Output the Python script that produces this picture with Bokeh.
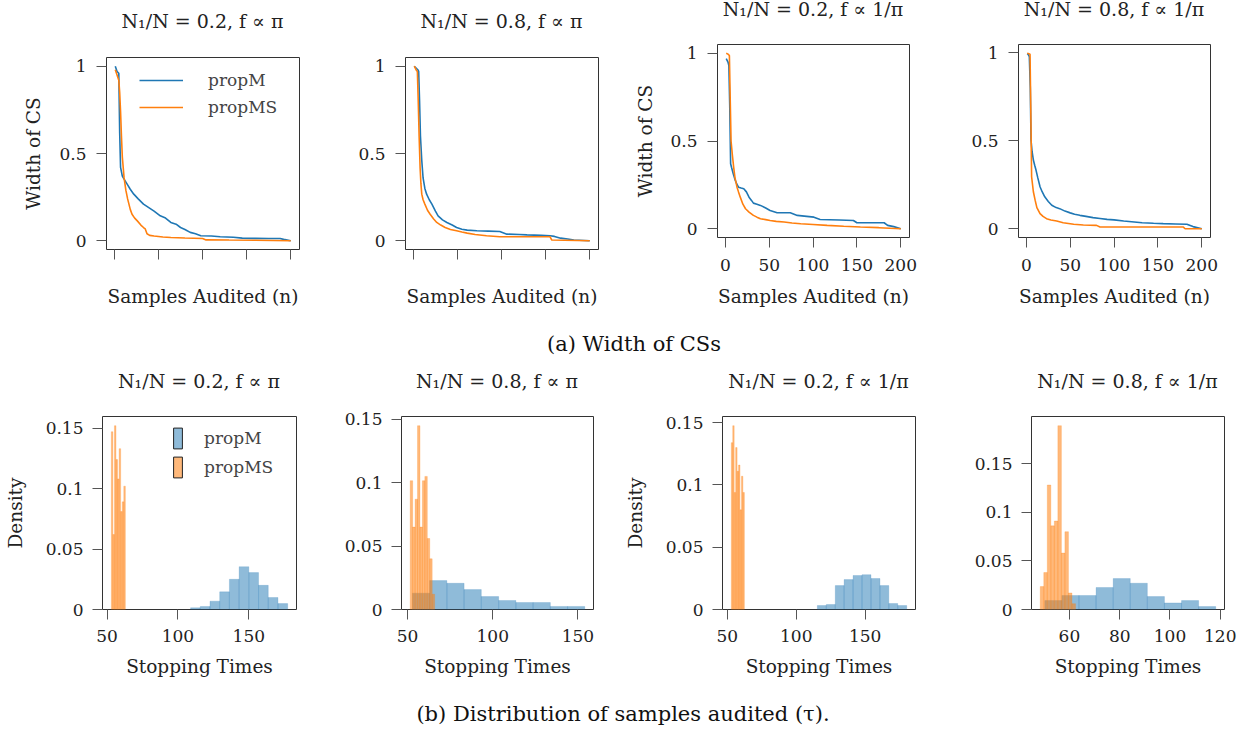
from bokeh.plotting import figure
from bokeh.layouts import column, row
from bokeh.models import Range1d, FixedTicker, Legend, LegendItem, Div
from bokeh.embed import file_html
from bokeh.resources import INLINE

FONT = "DejaVu Serif"
BLUE = "#1f77b4"
ORANGE = "#ff7f0e"
TXT = "#222222"

# ---------------- data: width of CS (top row) ----------------
titles = ["N₁/N = 0.2, f ∝ π", "N₁/N = 0.8, f ∝ π",
          "N₁/N = 0.2, f ∝ 1/π", "N₁/N = 0.8, f ∝ 1/π"]
series_names = ["propM", "propMS"]
top_xlabel = "Samples Audited (n)"
top_ylabel = "Width of CS"
bot_xlabel = "Stopping Times"
bot_ylabel = "Density"

a1_m_n = [1, 3, 5, 6, 7, 9, 12, 15, 18, 22, 27, 33, 39, 45, 52, 58, 64, 70, 75, 80, 86, 92, 98, 110, 120, 135, 145, 160, 175, 188, 192, 200]
a1_m_w = [1.0, 0.97, 0.96, 0.62, 0.42, 0.37, 0.345, 0.32, 0.295, 0.267, 0.24, 0.21, 0.19, 0.17, 0.143, 0.13, 0.105, 0.095, 0.076, 0.065, 0.048, 0.04, 0.029, 0.027, 0.023, 0.02, 0.015, 0.014, 0.013, 0.013, 0.008, 0.0]
a1_s_n = [1, 3, 5, 6, 7, 8, 9, 11, 13, 15, 18, 20, 23, 26, 30, 33, 35, 37, 40, 45, 55, 64, 80, 100, 104, 130, 160, 200]
a1_s_w = [0.98, 0.95, 0.92, 0.85, 0.74, 0.6, 0.48, 0.36, 0.29, 0.24, 0.18, 0.152, 0.13, 0.114, 0.09, 0.076, 0.068, 0.04, 0.031, 0.027, 0.022, 0.019, 0.016, 0.013, 0.005, 0.004, 0.003, 0.0]

a2_m_n = [1, 3, 5, 6, 7, 8, 9.5, 11, 13, 15, 18, 21, 25, 28, 33, 38, 44, 49, 55, 61, 72, 85, 98, 106, 120, 129, 145, 155, 160, 167, 175, 182, 200]
a2_m_w = [1.0, 0.99, 0.98, 0.97, 0.8, 0.6, 0.46, 0.36, 0.3, 0.267, 0.235, 0.21, 0.17, 0.143, 0.12, 0.105, 0.09, 0.076, 0.066, 0.061, 0.057, 0.055, 0.053, 0.038, 0.036, 0.034, 0.031, 0.029, 0.025, 0.015, 0.01, 0.004, 0.0]
a2_s_n = [1, 3, 4.5, 5.5, 6.5, 7.6, 8.5, 9.5, 11, 13, 16, 19, 23, 26.5, 31, 36, 42, 49, 55, 61, 70, 83, 98, 120, 155, 157, 200]
a2_s_w = [1.0, 0.98, 0.97, 0.8, 0.6, 0.42, 0.33, 0.267, 0.235, 0.21, 0.175, 0.152, 0.125, 0.105, 0.09, 0.076, 0.065, 0.057, 0.05, 0.044, 0.036, 0.029, 0.023, 0.023, 0.023, 0.004, 0.0]

a3_m_n = [1, 3, 4, 5, 6, 7, 9, 11, 13, 15, 18, 21, 24, 27, 30, 32, 36, 40, 46, 51, 59, 74, 82, 90, 101, 108, 130, 146, 150, 165, 181, 185, 192, 200]
a3_m_w = [0.97, 0.95, 0.93, 0.7, 0.37, 0.35, 0.313, 0.28, 0.255, 0.237, 0.232, 0.228, 0.21, 0.18, 0.16, 0.146, 0.14, 0.133, 0.118, 0.104, 0.091, 0.091, 0.076, 0.072, 0.066, 0.053, 0.05, 0.047, 0.034, 0.034, 0.034, 0.019, 0.012, 0.0]
a3_s_n = [1, 3, 4.6, 5.5, 6.5, 8, 9.5, 11, 13.3, 15, 17, 20, 23, 27, 32, 36, 40, 46, 51, 58, 67, 76, 86, 100, 116, 135, 154, 175, 200]
a3_s_w = [1.0, 0.995, 0.987, 0.75, 0.5, 0.42, 0.35, 0.29, 0.237, 0.21, 0.18, 0.14, 0.114, 0.095, 0.076, 0.066, 0.057, 0.052, 0.047, 0.042, 0.038, 0.033, 0.028, 0.024, 0.019, 0.014, 0.0095, 0.006, 0.0]

a4_m_n = [1, 2, 3.4, 4.5, 5.3, 6.5, 8, 9.5, 11, 13, 15.6, 18, 21, 25, 29, 34, 38, 44, 50, 55, 61, 68, 76, 84, 92, 100, 111, 120, 132, 145, 156, 170, 183, 190, 200]
a4_m_w = [0.994, 0.99, 0.977, 0.8, 0.505, 0.44, 0.39, 0.36, 0.333, 0.29, 0.238, 0.21, 0.181, 0.155, 0.133, 0.12, 0.114, 0.1, 0.09, 0.082, 0.076, 0.07, 0.063, 0.058, 0.053, 0.05, 0.044, 0.04, 0.034, 0.031, 0.029, 0.027, 0.025, 0.012, 0.0]
a4_s_n = [1, 2, 4.2, 5, 6, 8, 10, 12, 15.6, 19, 23, 28, 34.6, 42, 50, 54, 65, 80, 84, 120, 150, 179, 181, 200]
a4_s_w = [0.996, 0.995, 0.99, 0.7, 0.295, 0.21, 0.162, 0.12, 0.086, 0.07, 0.057, 0.05, 0.044, 0.034, 0.028, 0.025, 0.021, 0.019, 0.0095, 0.0095, 0.0095, 0.0095, 0.0, 0.0]

width_x_ticks = [0, 50, 100, 150, 200]
width_y_ticks = [0, 0.5, 1]

# ---------------- data: stopping-time histograms (bottom row) ----------------
b1_m_edges = [108.9, 115.75, 122.6, 129.45, 136.3, 143.15, 150.0, 156.85, 163.7, 170.55, 177.4]
b1_m_dens = [0.0014, 0.0025, 0.0069, 0.0146, 0.025, 0.0354, 0.0305, 0.020, 0.0099, 0.0049]
b1_s_edges = [53.0, 54.1, 55.2, 56.3, 57.4, 58.5, 59.6, 60.7, 61.8, 62.9]
b1_s_dens = [0.147, 0.062, 0.152, 0.124, 0.108, 0.133, 0.081, 0.089, 0.102]

b2_m_edges = [52.9, 63.0, 73.1, 83.2, 93.3, 103.5, 113.6, 123.7, 133.8, 143.9, 154.0]
b2_m_dens = [0.0129, 0.0228, 0.0207, 0.0157, 0.0102, 0.0071, 0.0055, 0.0055, 0.0024, 0.0024]
b2_s_edges = [51.6, 53.03, 54.46, 55.89, 57.32, 58.75, 60.18, 61.61, 63.04, 64.47, 65.9]
b2_s_dens = [0.1016, 0.065, 0.087, 0.145, 0.065, 0.1016, 0.105, 0.056, 0.04, 0.012]

b3_m_edges = [115.3, 121.8, 128.3, 134.7, 141.2, 147.7, 154.2, 160.7, 167.1, 173.6, 180.1]
b3_m_dens = [0.0032, 0.004, 0.0192, 0.024, 0.0273, 0.028, 0.0249, 0.0192, 0.0048, 0.0032]
b3_s_edges = [52.9, 53.96, 55.01, 56.07, 57.12, 58.18, 59.23, 60.29, 61.34, 62.4]
b3_s_dens = [0.134, 0.1476, 0.094, 0.13, 0.111, 0.116, 0.08, 0.107, 0.094]

b4_m_edges = [50.2, 57.0, 63.8, 70.6, 77.4, 84.2, 91.0, 97.8, 104.6, 111.4, 118.2]
b4_m_dens = [0.0092, 0.0144, 0.0144, 0.0226, 0.0318, 0.027, 0.0133, 0.0068, 0.0092, 0.003]
b4_s_edges = [48.4, 49.8, 51.2, 52.6, 54.0, 55.4, 56.8, 58.2, 59.6, 61.0, 62.4]
b4_s_dens = [0.0236, 0.038, 0.128, 0.086, 0.091, 0.189, 0.058, 0.080, 0.017, 0.006]

hist_x_ticks = [[50, 100, 150], [50, 100, 150], [50, 100, 150], [60, 80, 100, 120]]
hist_y_ticks = [0, 0.05, 0.1, 0.15]

caption_a = "(a) Width of CSs"
caption_b = "(b) Distribution of samples audited (τ)."


def style(p, xstand, ystand):
    p.xgrid.visible = False
    p.ygrid.visible = False
    p.outline_line_color = "#333333"
    p.outline_line_width = 1
    p.background_fill_color = "white"
    p.border_fill_color = "white"
    for ax in (p.xaxis[0], p.yaxis[0]):
        ax.axis_line_color = None
        ax.major_tick_line_color = "#555555"
        ax.major_tick_out = 10
        ax.major_tick_in = 0
        ax.minor_tick_line_color = None
        ax.major_label_text_font = FONT
        ax.major_label_text_font_size = "17px"
        ax.major_label_text_color = TXT
        ax.axis_label_text_font = FONT
        ax.axis_label_text_font_size = "18.5px"
        ax.axis_label_text_font_style = "normal"
        ax.axis_label_text_color = TXT
    p.xaxis.major_label_standoff = xstand
    p.yaxis.major_label_standoff = ystand


def title_div(text, w, frame_left, frame_w, height, pad_top, line_h):
    html = ('<div style="position:relative;width:%dpx;height:%dpx;">'
            '<div style="position:absolute;left:%dpx;width:%dpx;top:%dpx;text-align:center;'
            'white-space:nowrap;font-family:\'DejaVu Serif\';font-size:19px;line-height:%dpx;'
            'color:#222222;">%s</div></div>') % (w, height, frame_left, frame_w, pad_top, line_h, text)
    return Div(text=html, width=w, height=height, margin=0)


def pad_range(lo, hi, frac=0.05):
    d = (hi - lo) * frac
    return (lo - d, hi + d)


# ---------------- top row ----------------
top_specs = [
    # width, left, right, frame top, bottom, title div height, title pad, line height
    (310, 106, 11, 57, 69, 40, 10, 22),
    (310, 95, 22, 57, 69, 40, 10, 22),
    (310, 97, 21, 44, 81, 30, 0, 18),
    (313, 88, 33, 44, 81, 30, 0, 18),
]
top_data = [(a1_m_n, a1_m_w, a1_s_n, a1_s_w), (a2_m_n, a2_m_w, a2_s_n, a2_s_w),
            (a3_m_n, a3_m_w, a3_s_n, a3_s_w), (a4_m_n, a4_m_w, a4_s_n, a4_s_w)]
top_cols = []
for i in range(4):
    w, bl, br, ft, bb, th, tp, lh = top_specs[i]
    mn, mw, sn, sw = top_data[i]
    xr = pad_range(min(mn + sn), max(mn + sn))
    yr = pad_range(min(mw + sw), max(mw + sw))
    p = figure(width=w, height=318 - th, min_border_left=bl, min_border_right=br,
               min_border_top=ft - th, min_border_bottom=bb,
               x_range=Range1d(*xr), y_range=Range1d(*yr),
               output_backend="svg", toolbar_location=None, tools="")
    style(p, 11, 10)
    p.xaxis.ticker = FixedTicker(ticks=width_x_ticks)
    p.yaxis.ticker = FixedTicker(ticks=width_y_ticks)
    p.yaxis.major_label_overrides = {0: "0", 0.5: "0.5", 1: "1"}
    p.xaxis.axis_label = top_xlabel
    if i < 2:
        p.xaxis.major_label_overrides = {t: "" for t in width_x_ticks}
        p.xaxis.axis_label_standoff = 26
    else:
        p.xaxis.axis_label_standoff = 12
    if i in (0, 2):
        p.yaxis.axis_label = top_ylabel
        p.yaxis.axis_label_standoff = 12 if i == 0 else 11
    r1 = p.line(mn, mw, line_color=BLUE, line_width=1.6)
    r2 = p.line(sn, sw, line_color=ORANGE, line_width=1.6)
    if i == 0:
        leg = Legend(items=[LegendItem(label=series_names[0], renderers=[r1]),
                            LegendItem(label=series_names[1], renderers=[r2])],
                     location=(33, 132), padding=0, margin=0, spacing=7,
                     glyph_width=44, glyph_height=20, label_standoff=25,
                     border_line_color=None, background_fill_alpha=0,
                     label_text_font=FONT, label_text_font_size="17px",
                     label_text_color="#444444")
        p.add_layout(leg)
    fw = w - bl - br
    top_cols.append(column(title_div(titles[i], w, bl, fw, th, tp, lh), p))

# ---------------- bottom row ----------------
bot_specs = [
    (310, 102, 14, 51, 81),
    (310, 91, 27, 51, 81),
    (310, 102, 15, 51, 81),
    (313, 101, 19, 51, 81),
]
bot_data = [(b1_m_edges, b1_m_dens, b1_s_edges, b1_s_dens),
            (b2_m_edges, b2_m_dens, b2_s_edges, b2_s_dens),
            (b3_m_edges, b3_m_dens, b3_s_edges, b3_s_dens),
            (b4_m_edges, b4_m_dens, b4_s_edges, b4_s_dens)]
BT_H = 40
bot_cols = []
for i in range(4):
    w, bl, br, ft, bb = bot_specs[i]
    me, md, se, sd = bot_data[i]
    xr = pad_range(min(me + se), max(me + se))
    ytop = max(md + sd) * 1.05
    p = figure(width=w, height=325 - BT_H, min_border_left=bl, min_border_right=br,
               min_border_top=ft - BT_H, min_border_bottom=bb,
               x_range=Range1d(*xr), y_range=Range1d(0, ytop),
               output_backend="svg", toolbar_location=None, tools="")
    style(p, 10, 9)
    p.xaxis.ticker = FixedTicker(ticks=hist_x_ticks[i])
    p.yaxis.ticker = FixedTicker(ticks=hist_y_ticks)
    p.yaxis.major_label_overrides = {0: "0", 0.05: "0.05", 0.1: "0.1", 0.15: "0.15"}
    p.xaxis.axis_label = bot_xlabel
    p.xaxis.axis_label_standoff = 11
    if i in (0, 2):
        p.yaxis.axis_label = bot_ylabel
        p.yaxis.axis_label_standoff = 17
    p.quad(left=me[:-1], right=me[1:], bottom=0, top=md,
           fill_color=BLUE, fill_alpha=0.5, line_color=BLUE, line_alpha=0.3, line_width=0.6)
    p.quad(left=se[:-1], right=se[1:], bottom=0, top=sd,
           fill_color=ORANGE, fill_alpha=0.55, line_color=ORANGE, line_alpha=0.4, line_width=0.6)
    if i == 0:
        d1 = p.quad(left=me[:1], right=me[1:2], bottom=0, top=md[:1], fill_color=BLUE,
                    fill_alpha=0.5, line_color="#222222", line_width=1, visible=False)
        d2 = p.quad(left=se[:1], right=se[1:2], bottom=0, top=sd[:1], fill_color=ORANGE,
                    fill_alpha=0.55, line_color="#222222", line_width=1, visible=False)
        leg = Legend(items=[LegendItem(label=series_names[0], renderers=[d1]),
                            LegendItem(label=series_names[1], renderers=[d2])],
                     location=(70, 129), padding=0, margin=0, spacing=3,
                     glyph_width=11, glyph_height=26, label_standoff=21,
                     border_line_color=None, background_fill_alpha=0,
                     label_text_font=FONT, label_text_font_size="17px",
                     label_text_color="#444444")
        p.add_layout(leg)
    fw = w - bl - br
    bot_cols.append(column(title_div(titles[i], w, bl, fw, BT_H, 5, 22), p))

cap_style = ("width:1243px;text-align:center;font-family:'DejaVu Serif';font-size:21px;"
             "line-height:24px;box-sizing:border-box;color:#111111;")
cap_a = Div(text='<div style="' + cap_style + 'padding-top:14px;padding-left:25px;">' + caption_a + '</div>',
            width=1243, height=47, margin=0)
cap_b = Div(text='<div style="' + cap_style + 'padding-top:12px;padding-left:3px;">' + caption_b + '</div>',
            width=1243, height=40, margin=0)

layout = column(row(*top_cols), cap_a, row(*bot_cols), cap_b)

with open("out.html", "w") as f:
    f.write(file_html(layout, INLINE))
